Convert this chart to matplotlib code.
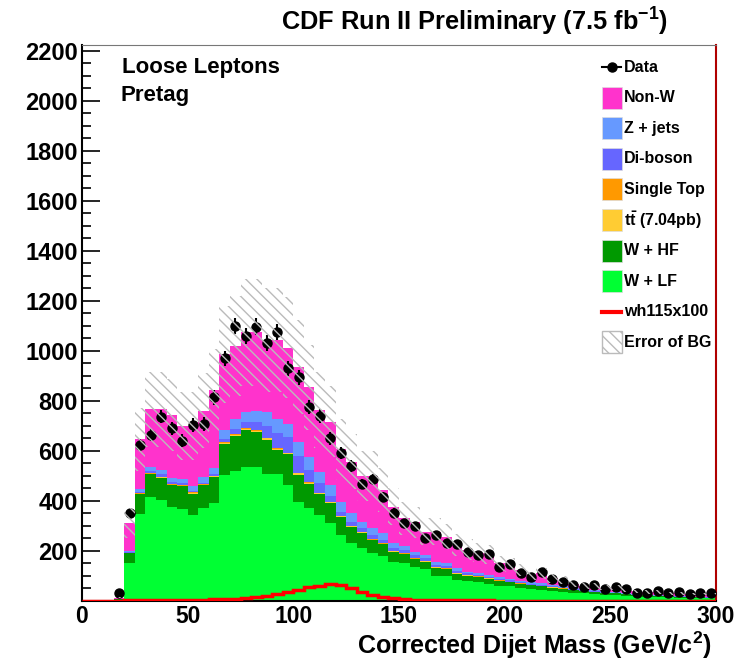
import numpy as np
import matplotlib
matplotlib.use('Agg')
import matplotlib.pyplot as plt
from matplotlib.patches import Rectangle
from matplotlib.lines import Line2D

plt.rcParams['font.family'] = ['Liberation Sans', 'DejaVu Sans']
plt.rcParams['font.weight'] = 'bold'
plt.rcParams['mathtext.fontset'] = 'custom'
plt.rcParams['mathtext.rm'] = 'Liberation Sans:bold'
plt.rcParams['mathtext.bf'] = 'Liberation Sans:bold'
plt.rcParams['mathtext.it'] = 'Liberation Sans:bold'
plt.rcParams['hatch.linewidth'] = 1.0

# 5 GeV bins, 0-300
edges = np.arange(0, 305, 5)

w_lf = [0, 0, 0, 4, 150, 347, 413, 403, 374, 368, 343, 370, 392, 503, 520, 536, 533, 507, 507, 463,
        396, 370, 343, 310, 263, 230, 212, 190, 179, 156, 150, 134, 126, 99, 99, 83, 78, 74, 68, 60,
        57, 52, 47, 44, 40, 36, 32, 29, 27, 24, 22, 20, 17, 16, 14, 13, 12, 11, 10, 9]
w_hf = [0, 0, 0, 1, 40, 78, 92, 88, 87, 89, 85, 91, 102, 124, 138, 145, 141, 137, 95, 122,
        108, 96, 82, 79, 70, 63, 58, 51, 46, 38, 35, 32, 30, 33, 27, 25, 22, 20, 19, 18,
        16, 15, 14, 13, 12, 11, 10, 9, 8, 7, 7, 6, 5, 5, 5, 4, 4, 4, 3, 3]
ttbar = [0, 0, 0, 0, 1, 2, 3, 3, 3, 3, 3, 3, 3, 4, 4, 5, 5, 5, 4, 4,
         5, 5, 4, 4, 4, 4, 4, 3, 3, 3, 3, 2, 2, 2, 2, 2, 2, 2, 2, 2,
         2, 1, 1, 1, 1, 1, 1, 1, 1, 1, 0, 0, 0, 0, 0, 0, 0, 0, 0, 0]
single_top = [0, 0, 0, 0, 1, 2, 2, 2, 2, 2, 2, 2, 2, 3, 3, 3, 3, 3, 3, 3,
              3, 3, 3, 3, 2, 2, 2, 2, 2, 2, 2, 2, 2, 2, 2, 2, 1, 1, 1, 1,
              1, 1, 1, 1, 1, 1, 0, 0, 0, 0, 0, 0, 0, 0, 0, 0, 0, 0, 0, 0]
diboson = [0, 0, 0, 0, 2, 4, 8, 9, 8, 8, 5, 5, 6, 11, 20, 27, 34, 45, 63, 63,
           67, 49, 37, 23, 17, 17, 16, 17, 13, 11, 13, 12, 10, 8, 9, 7, 6, 6, 5, 5,
           5, 4, 4, 4, 3, 3, 3, 2, 2, 2, 2, 2, 1, 1, 1, 1, 1, 1, 1, 1]
z_jets = [0, 0, 0, 1, 4, 13, 16, 18, 18, 18, 22, 23, 27, 38, 40, 37, 44, 56, 53, 53,
          55, 51, 47, 44, 40, 34, 24, 27, 27, 20, 16, 13, 13, 12, 13, 11, 7, 8, 8, 8,
          7, 7, 6, 6, 5, 5, 4, 4, 4, 3, 3, 3, 2, 2, 2, 2, 2, 1, 1, 1]
non_w = [0, 0, 0, 6, 113, 199, 232, 243, 251, 211, 239, 266, 311, 302, 295, 320, 313, 290, 318, 304,
         300, 280, 247, 253, 209, 206, 183, 209, 173, 146, 111, 118, 93, 120, 104, 93, 88, 80, 82, 56,
         54, 42, 30, 40, 28, 24, 17, 15, 16, 14, 17, 14, 12, 11, 13, 10, 11, 10, 12, 13]
bg_err = [0, 0, 0, 3, 60, 125, 150, 150, 145, 137, 137, 150, 165, 193, 200, 215, 215, 208, 208, 202,
          187, 170, 153, 143, 121, 111, 100, 100, 89, 75, 66, 62, 55, 55, 51, 45, 41, 38, 37, 30,
          28, 24, 21, 22, 18, 16, 13, 12, 12, 10, 10, 9, 7, 7, 7, 6, 6, 5, 5, 5]
data = [0, 0, 0, 30, 350, 623, 663, 736, 689, 640, 703, 707, 813, 969, 1099, 1059, 1096, 1030, 1076, 929,
        893, 776, 739, 649, 592, 539, 467, 486, 416, 352, 310, 299, 250, 263, 230, 227, 194, 183, 187, 133,
        147, 112, 96, 116, 85, 76, 61, 53, 63, 47, 56, 47, 32, 32, 39, 29, 36, 25, 29, 29]
signal = [0, 0, 0, 0, 1, 2, 2, 2, 3, 3, 3, 4, 5, 6, 8, 10, 13, 19, 27, 33,
          43, 53, 60, 67, 63, 49, 36, 23, 13, 9, 6, 4, 3, 2, 2, 1, 1, 1, 1, 0,
          0, 0, 0, 0, 0, 0, 0, 0, 0, 0, 0, 0, 0, 0, 0, 0, 0, 0, 0, 0]

stack = [('W + LF', w_lf, '#00ff33'),
         ('W + HF', w_hf, '#009900'),
         ('t$\\bar{\\rm t}$ (7.04pb)', ttbar, '#ffcc33'),
         ('Single Top', single_top, '#ff9900'),
         ('Di-boson', diboson, '#6666ff'),
         ('Z + jets', z_jets, '#6699ff'),
         ('Non-W', non_w, '#ff33cc')]

W, H = 747, 660
fig = plt.figure(figsize=(W / 100, H / 100), dpi=100)
ax = fig.add_axes([82 / W, 59.3 / H, 634 / W, 555.7 / H])

bottom = np.zeros(len(edges) - 1)
for name, vals, col in stack:
    vals = np.array(vals, dtype=float)
    ax.bar(edges[:-1], vals, width=5, bottom=bottom, align='edge', color=col,
           linewidth=0, zorder=1)
    bottom = bottom + vals
total = bottom

err = np.array(bg_err, dtype=float)
ax.bar(edges[:-1], 2 * err, width=5, bottom=total - err, align='edge', fill=False,
       hatch='\\\\\\', edgecolor='#bbbbbb', linewidth=0, zorder=4)

ax.stairs(signal, edges, color='#ff0000', linewidth=2.5, zorder=3)

d = np.array(data, dtype=float)
centers = 0.5 * (edges[:-1] + edges[1:])
m = d > 0
ax.errorbar(centers[m], d[m], yerr=np.sqrt(d[m]), fmt='o', color='black', ms=6.5,
            elinewidth=1.5, capsize=0, zorder=3)

ax.set_xlim(0, 300)
ax.set_ylim(0, 2223)
ax.set_xticks([0, 50, 100, 150, 200, 250, 300])
ax.set_yticks(np.arange(200, 2201, 200))
ax.set_yticks(np.arange(50, 2223, 50), minor=True)
ax.tick_params(axis='y', which='major', direction='in', length=13, width=1.2,
               labelsize=17, pad=3)
ax.tick_params(axis='y', which='minor', direction='in', length=6.5, width=1.2)
ax.tick_params(axis='x', which='both', length=0, labelsize=16.5, pad=3)
for lab in ax.get_xticklabels() + ax.get_yticklabels():
    lab.set_fontweight('bold')

ax.spines['left'].set_linewidth(1.5)
ax.spines['bottom'].set_linewidth(1.5)
ax.spines['top'].set_color('#777777')
ax.spines['right'].set_color('#b00000')
ax.spines['right'].set_linewidth(1.5)

def fx(x):
    return x / W

def fy(y):
    return 1 - y / H

fig.text(fx(668), fy(22), 'CDF Run II Preliminary (7.5 fb$^{-1}$)', ha='right', va='center',
         fontsize=18.3, fontweight='bold')
fig.text(fx(712), fy(645), 'Corrected Dijet Mass (GeV/c$^{2}$)', ha='right', va='center',
         fontsize=18, fontweight='bold')
fig.text(fx(122), fy(67), 'Loose Leptons', ha='left', va='center', fontsize=16, fontweight='bold')
fig.text(fx(120), fy(96), 'Pretag', ha='left', va='center', fontsize=16, fontweight='bold')

# legend, drawn by hand
rows = [('Data', 'data', None)] + [(n, 'box', c) for n, v, c in stack[::-1]] + \
       [('wh115x100', 'line', '#ff0000'), ('Error of BG', 'hatch', None)]
y0, dy = 67, 30.6
for i, (name, kind, col) in enumerate(rows):
    yc = y0 + i * dy
    if kind == 'data':
        fig.add_artist(Line2D([fx(602), fx(621)], [fy(yc), fy(yc)], color='black', lw=1.5))
        fig.add_artist(Line2D([fx(611.5)], [fy(yc)], marker='o', color='black', ms=6.5))
    elif kind == 'line':
        fig.add_artist(Line2D([fx(602), fx(621)], [fy(yc), fy(yc)], color=col, lw=3))
    elif kind == 'box':
        fig.add_artist(Rectangle((fx(601.5), fy(yc + 11)), 20 / W, 22 / H, facecolor=col,
                                 edgecolor='#dddddd', linewidth=0.5))
    else:
        fig.add_artist(Rectangle((fx(601.5), fy(yc + 11)), 20 / W, 22 / H, facecolor='white',
                                 edgecolor='#bbbbbb', hatch='\\\\\\', linewidth=1))
    fig.text(fx(624), fy(yc), name, ha='left', va='center', fontsize=11.5, fontweight='bold')

fig.savefig('out.png', dpi=100)
